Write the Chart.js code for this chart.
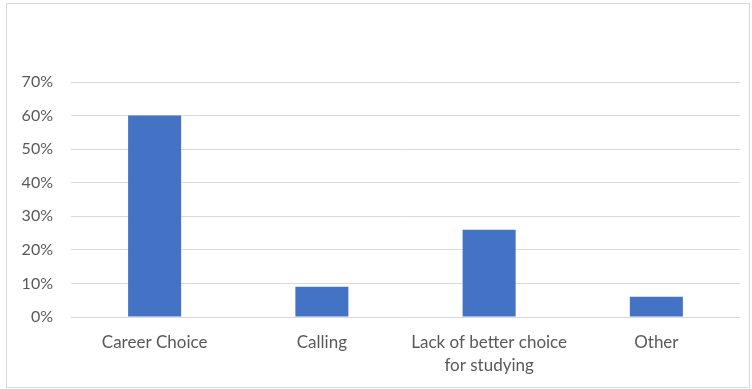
<!DOCTYPE html>
<html>
<head>
<meta charset="utf-8">
<script src="https://cdn.jsdelivr.net/npm/chart.js@4.4.0/dist/chart.umd.min.js"></script>
<style>
    html, body { margin: 0; padding: 0; background: #fff; }
    #wrap { position: relative; width: 752px; height: 389px; }
    #frame {
        position: absolute; left: 6px; top: 3px;
        width: 742px; height: 383px;
        border: 1px solid #d9d9d9;
    }
    #chart { position: absolute; left: 0; top: 0; }
</style>
</head>
<body>
<div id="wrap">
    <div id="frame"></div>
    <canvas id="chart" width="752" height="389"></canvas>
</div>
<script>
// Reasons for choosing the programme (share of respondents)
const categories = ['Career Choice', 'Calling', ['Lack of better choice', 'for studying'], 'Other'];
const shares = [60, 9, 26, 6];
const yTicks = [0, 10, 20, 30, 40, 50, 60, 70];

const textColor = '#595959';
const family = 'Lato, "Open Sans", sans-serif';

new Chart(document.getElementById('chart'), {
    type: 'bar',
    data: {
        labels: categories,
        datasets: [{
            data: shares,
            backgroundColor: '#4472c4',
            borderWidth: 0,
            categoryPercentage: 1,
            barPercentage: 0.317
        }]
    },
    options: {
        responsive: false,
        animation: false,
        layout: { padding: { top: 82, right: 12, bottom: 0, left: 0 } },
        plugins: { legend: { display: false }, tooltip: { enabled: false } },
        scales: {
            x: {
                grid: { display: false },
                border: { display: false },
                ticks: {
                    color: textColor,
                    font: { family: family, size: 17, lineHeight: 1.35 },
                    padding: 6,
                    maxRotation: 0
                },
                afterFit: s => { s.height = 72; }
            },
            y: {
                min: 0,
                max: 70,
                afterBuildTicks: s => { s.ticks = yTicks.map(v => ({ value: v })); },
                grid: { color: '#d9d9d9', lineWidth: 1, drawTicks: false },
                border: { display: false },
                ticks: {
                    color: textColor,
                    font: { family: family, size: 16 },
                    padding: 18,
                    callback: v => v + '%'
                },
                afterFit: s => { s.width = 71; }
            }
        }
    }
});
</script>
</body>
</html>
